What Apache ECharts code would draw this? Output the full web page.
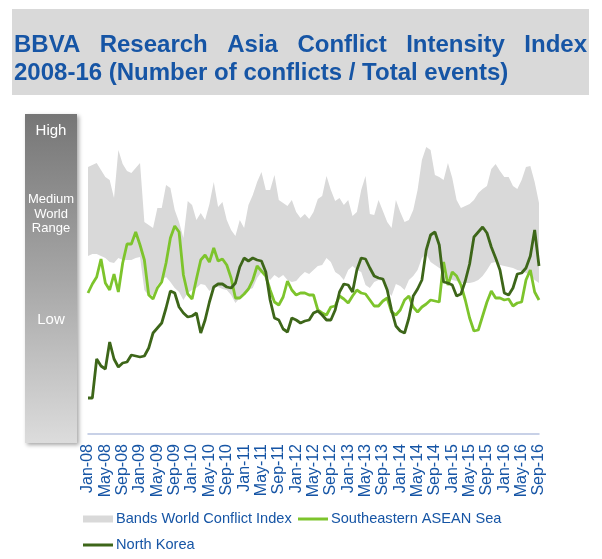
<!DOCTYPE html>
<html>
<head>
<meta charset="utf-8">
<script src="https://cdn.jsdelivr.net/npm/echarts@6/dist/echarts.min.js"></script>
<style>
  html, body { margin: 0; padding: 0; background: #fff; }
  #chart { width: 602px; height: 559px; }
</style>
</head>
<body>
<div id="chart"></div>
<script>
// month labels, Jan-08 .. Sep-16
const MONTHS = ["Jan", "Feb", "Mar", "Apr", "May", "Jun", "Jul", "Aug", "Sep", "Oct", "Nov", "Dec"];
const YEARS = ["08", "09", "10", "11", "12", "13", "14", "15", "16"];
const categories = [];
YEARS.forEach(y => MONTHS.forEach(m => categories.push(m + "-" + y)));
categories.length = 105;

// index values (relative scale, 0 = bottom of chart, 314 = top)
const bandLow = [
  178, 180, 180, 178, 176, 172, 171, 176, 174, 174, 174, 176, 177, 144, 138, 139, 149, 154, 157, 152,
  146, 142, 134, 141, 144, 146, 150, 149, 143, 147, 147, 145, 144, 139, 131, 136, 141, 144, 146, 156,
  162, 158, 154, 159, 156, 159, 154, 152, 153, 158, 162, 160, 164, 168, 169, 176, 172, 162, 159, 154,
  164, 168, 164, 162, 149, 146, 152, 154, 153, 144, 138, 150, 148, 144, 154, 158, 164, 176, 180, 172,
  169, 166, 164, 156, 154, 153, 151, 151, 151, 152, 154, 158, 164, 171, 172, 169, 168, 167, 166, 164,
  163, 161, 159, 154, 151
];
const bandHigh = [
  267, 269, 271, 264, 257, 254, 236, 284, 270, 263, 261, 266, 271, 212, 209, 206, 226, 226, 249, 246,
  224, 212, 196, 233, 229, 214, 221, 214, 230, 252, 227, 232, 214, 204, 198, 214, 206, 229, 239, 252,
  262, 244, 244, 259, 234, 231, 228, 234, 222, 216, 220, 215, 222, 235, 238, 258, 244, 233, 236, 229,
  234, 218, 222, 244, 258, 220, 219, 234, 223, 212, 206, 234, 222, 212, 214, 224, 244, 274, 287, 284,
  259, 257, 254, 271, 256, 234, 226, 228, 230, 234, 241, 245, 248, 265, 270, 263, 257, 257, 248, 245,
  254, 267, 268, 252, 231
];
const asean = [
  141, 150, 157, 175, 151, 144, 160, 142, 171, 190, 190, 202, 189, 174, 139, 135, 146, 152, 171, 196,
  208, 202, 159, 140, 135, 155, 174, 179, 172, 186, 173, 175, 169, 156, 136, 136, 140, 145, 154, 168,
  163, 158, 144, 132, 129, 137, 153, 144, 139, 141, 141, 139, 139, 124, 121, 119, 127, 128, 138, 135,
  131, 138, 144, 141, 140, 134, 128, 128, 133, 136, 122, 119, 124, 134, 138, 127, 122, 127, 130, 134,
  133, 132, 172, 149, 162, 158, 149, 134, 116, 103, 104, 118, 132, 143, 136, 136, 134, 135, 128, 131,
  132, 154, 164, 142, 134
];
const northKorea = [
  36, 36, 75, 68, 65, 92, 75, 67, 71, 72, 79, 78, 77, 78, 86, 101, 106, 111, 126, 143,
  141, 127, 121, 117, 118, 121, 101, 114, 132, 147, 150, 150, 147, 146, 151, 167, 176, 173, 176, 174,
  173, 162, 134, 116, 114, 105, 102, 116, 114, 111, 113, 114, 121, 123, 119, 114, 114, 124, 142, 150,
  149, 142, 164, 176, 175, 166, 158, 156, 155, 144, 124, 108, 103, 101, 116, 138, 145, 154, 184, 199,
  202, 189, 152, 151, 149, 138, 140, 153, 170, 197, 202, 207, 201, 187, 176, 164, 141, 139, 146, 160,
  161, 166, 178, 204, 168
];
const titleLine1 = ["BBVA", "Research", "Asia", "Conflict", "Intensity", "Index"];
const titleLine2 = "2008-16 (Number of conflicts / Total events)";
const rangeLabels = ["High", "Medium\nWorld\nRange", "Low"];

const BLUE = "#1655a5";
const GREY = "#d9d9d9";
const LIGHT_GREEN = "#7dc42c";
const DARK_GREEN = "#3d6619";
const FONT = '"Liberation Sans", Arial, sans-serif';
const TITLE_FONT = "bold 24px " + FONT;
const LINE_ICON = "path://M0,0H30V3H0Z";

const chart = echarts.init(document.getElementById("chart"));

// justify the first title line between the banner edges
const ctx = document.createElement("canvas").getContext("2d");
ctx.font = TITLE_FONT;
const widths = titleLine1.map(w => ctx.measureText(w).width);
const left = 14, right = 587;
const gap = (right - left - widths.reduce((a, b) => a + b, 0)) / (titleLine1.length - 1);
let cx = left;
const titleWords = titleLine1.map((w, i) => {
  const el = {
    type: "text", x: cx, y: 45,
    style: { text: w, font: TITLE_FONT, fill: BLUE, verticalAlign: "middle" }
  };
  cx += widths[i] + gap;
  return el;
});

const rangeY = [131, 214, 320];

function legendAt(left, top, item) {
  return {
    left: left, top: top, padding: 0,
    itemWidth: 30, itemHeight: 7,
    textStyle: { color: BLUE, fontSize: 14.6, fontFamily: FONT, lineHeight: 20, padding: [0, 0, 0, -2] },
    data: [item]
  };
}

chart.setOption({
  animation: false,
  graphic: [
    { type: "rect", shape: { x: 12, y: 9, width: 577, height: 86 }, style: { fill: GREY }, z: -1 },
    ...titleWords,
    {
      type: "text", x: 14, y: 73.5,
      style: { text: titleLine2, font: TITLE_FONT, fill: BLUE, verticalAlign: "middle" }
    },
    {
      type: "rect", shape: { x: 25, y: 114, width: 52, height: 329 },
      style: {
        fill: new echarts.graphic.LinearGradient(0, 0, 0, 1, [
          { offset: 0, color: "#767676" },
          { offset: 0.5, color: "#a6a6a6" },
          { offset: 1, color: "#dcdcdc" }
        ]),
        shadowBlur: 4, shadowOffsetX: 2, shadowOffsetY: 2, shadowColor: "rgba(0,0,0,0.35)"
      }
    },
    ...rangeLabels.map((t, i) => ({
      type: "text", x: 51, y: rangeY[i],
      style: {
        text: t, fill: "#fff", align: "center", verticalAlign: "middle",
        font: (i === 1 ? "13px " : "15px ") + FONT,
        lineHeight: 14.5
      }
    }))
  ],
  legend: [
    legendAt(83, 509, { name: "Bands World Conflict Index", icon: "rect", itemStyle: { color: GREY } }),
    legendAt(298, 509, { name: "Southeastern ASEAN Sea", icon: LINE_ICON, itemStyle: { color: LIGHT_GREEN } }),
    legendAt(83, 535, { name: "North Korea", icon: LINE_ICON, itemStyle: { color: DARK_GREEN } })
  ],
  grid: { left: 88, right: 63, top: 120, bottom: 125 },
  xAxis: {
    type: "category",
    data: categories,
    boundaryGap: false,
    axisLine: { lineStyle: { color: "#b6c2df", width: 1.5 } },
    axisTick: { show: false },
    axisLabel: {
      interval: 3, rotate: 90, margin: 10,
      color: BLUE, fontSize: 16, fontFamily: FONT
    },
    splitLine: { show: false }
  },
  yAxis: {
    type: "value", min: 0, max: 314,
    axisLine: { show: false }, axisTick: { show: false },
    axisLabel: { show: false }, splitLine: { show: false }
  },
  series: [
    {
      name: "bandBase", type: "line", stack: "band", data: bandLow,
      symbol: "none", lineStyle: { opacity: 0 }, silent: true
    },
    {
      name: "Bands World Conflict Index", type: "line", stack: "band",
      data: bandHigh.map((v, i) => v - bandLow[i]),
      symbol: "none", lineStyle: { width: 0, opacity: 0 },
      itemStyle: { color: GREY },
      areaStyle: { color: GREY, opacity: 1 }
    },
    {
      name: "Southeastern ASEAN Sea", type: "line", data: asean,
      symbol: "none", lineStyle: { color: LIGHT_GREEN, width: 2.8 }, itemStyle: { color: LIGHT_GREEN }
    },
    {
      name: "North Korea", type: "line", data: northKorea,
      symbol: "none", lineStyle: { color: DARK_GREEN, width: 2.8 }, itemStyle: { color: DARK_GREEN }
    }
  ]
});
</script>
</body>
</html>
